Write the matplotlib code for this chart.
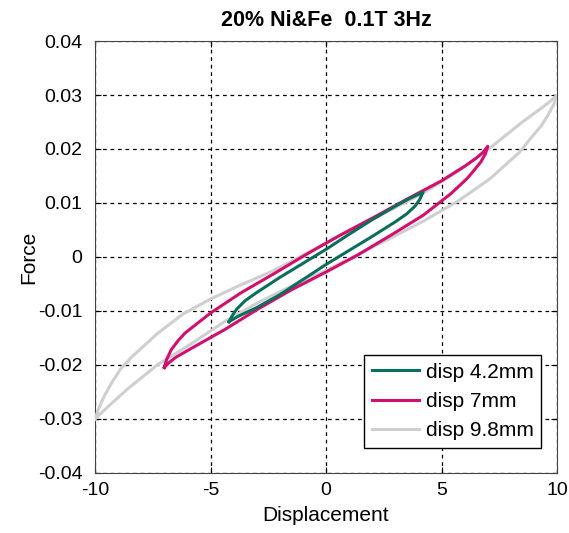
import numpy as np
import matplotlib.pyplot as plt

plt.rcParams['font.family'] = ['Liberation Sans', 'DejaVu Sans']

# disp 9.8mm loop (gray)
gray_up_x = [-10, -9.85, -9.6, -9.3, -8.9, -8.4, -7.3, -6.2, -5, -3.7, -2.3, -1, 0, 1.4, 2.8, 4.2, 5.7, 7.1,
             8.5, 9.3, 9.7, 10]
gray_up_y = [-0.030, -0.0282, -0.0258, -0.0235, -0.0208, -0.0185, -0.0142, -0.0106, -0.0078, -0.0052, -0.0026,
             0.0003, 0.0026, 0.0057, 0.0087, 0.0118, 0.0158, 0.0202, 0.0250, 0.0275, 0.0288, 0.030]
gray_lo_x = [-10, -9.7, -9.3, -8.6, -7.3, -5.8, -4.4, -3, -1.5, 0, 1.4, 2.8, 4.2, 5.7, 7.1, 8.4, 8.9, 9.3,
             9.6, 9.85, 10]
gray_lo_y = [-0.030, -0.0288, -0.0272, -0.0245, -0.0200, -0.0160, -0.0120, -0.0086, -0.0054, -0.0025, 0.0005,
             0.0035, 0.0066, 0.0103, 0.0145, 0.0195, 0.0222, 0.0242, 0.0262, 0.0282, 0.030]

# disp 7mm loop (magenta)
mag_up_x = [-7, -6.9, -6.7, -6.4, -6.1, -5, -3.7, -2.25, -0.8, 0.6, 2.1, 3.5, 5, 6.0, 6.5, 6.8, 7]
mag_up_y = [-0.0205, -0.0190, -0.0172, -0.0155, -0.0141, -0.0104, -0.0067, -0.0031, 0.0006, 0.0040, 0.0074,
            0.0107, 0.0141, 0.0168, 0.0183, 0.0194, 0.0205]
mag_lo_x = [-7, -6.8, -6.5, -5.85, -4.4, -3, -1.5, 0, 1.35, 2.8, 4.2, 5.4, 6.1, 6.4, 6.7, 6.9, 7]
mag_lo_y = [-0.0205, -0.0196, -0.0186, -0.0170, -0.0135, -0.0098, -0.0061, -0.0028, 0.0003, 0.0040, 0.0077,
            0.0117, 0.0145, 0.0160, 0.0176, 0.0191, 0.0205]

# disp 4.2mm loop (green)
grn_up_x = [-4.2, -4.05, -3.85, -3.5, -3.0, -2.0, -1.0, 0, 1.0, 2.0, 3.0, 3.6, 4.0, 4.2]
grn_up_y = [-0.0120, -0.0108, -0.0096, -0.0081, -0.0066, -0.0038, -0.0012, 0.0014, 0.0042, 0.0069, 0.0094,
            0.0108, 0.0116, 0.0120]
grn_lo_x = [-4.2, -3.8, -3.0, -2.0, -1.0, 0, 1.0, 2.0, 3.0, 3.5, 3.85, 4.05, 4.2]
grn_lo_y = [-0.0120, -0.0110, -0.0094, -0.0070, -0.0042, -0.0014, 0.0012, 0.0038, 0.0065, 0.0080, 0.0094,
            0.0106, 0.0120]

labels = ['disp 4.2mm', 'disp 7mm', 'disp 9.8mm']
colors = ['#0a6e5c', '#d10f6e', '#cfcfcf']

fig = plt.figure(figsize=(5.69, 5.33), dpi=100)
ax = fig.add_axes([0.167, 0.113, 0.812, 0.81])

loops = [(grn_up_x, grn_up_y, grn_lo_x, grn_lo_y),
         (mag_up_x, mag_up_y, mag_lo_x, mag_lo_y),
         (gray_up_x, gray_up_y, gray_lo_x, gray_lo_y)]

# gray first so it sits underneath
handles = {}
for i in [2, 1, 0]:
    ux, uy, lx, ly = loops[i]
    x = list(ux) + list(lx[::-1])
    y = list(uy) + list(ly[::-1])
    h, = ax.plot(x, y, color=colors[i], lw=2.2, label=labels[i], zorder=3 + (2 - i),
                 solid_joinstyle='round')
    handles[i] = h

ax.set_xlim(-10, 10)
ax.set_ylim(-0.04, 0.04)
ax.set_xticks([-10, -5, 0, 5, 10])
ax.set_yticks(np.arange(-0.04, 0.041, 0.01))
ax.set_xticklabels(['-10', '-5', '0', '5', '10'])
ax.set_yticklabels(['-0.04', '-0.03', '-0.02', '-0.01', '0', '0.01', '0.02', '0.03', '0.04'])
ax.grid(True, color='black', linestyle=(0, (3, 3)), linewidth=0.9)
ax.set_axisbelow(True)
ax.tick_params(direction='in', top=True, right=True, labelsize=14, length=4)
ax.tick_params(axis='x', pad=7)
ax.tick_params(axis='y', pad=9)
for s in ax.spines.values():
    s.set_color('#444444')

ax.set_xlabel('Displacement', fontsize=15, labelpad=5)
ax.set_ylabel('Force', fontsize=15, labelpad=0)
ax.set_title('20% Ni&Fe  0.1T 3Hz', fontsize=15.5, fontweight='bold', pad=11)

leg = ax.legend([handles[0], handles[1], handles[2]], labels, loc='lower right', fontsize=15,
                fancybox=False, edgecolor='black', framealpha=1, handlelength=2.3,
                handletextpad=0.3, borderpad=0.35, labelspacing=0.5, borderaxespad=0,
                bbox_to_anchor=(0.965, 0.058))
leg.get_frame().set_linewidth(1.0)

fig.savefig('out.png', dpi=100)
